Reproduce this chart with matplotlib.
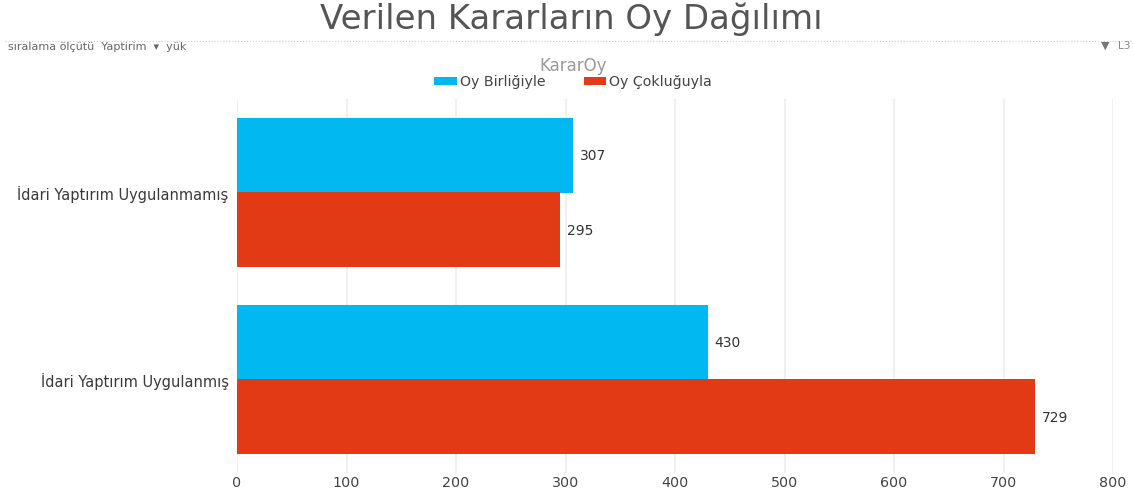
import matplotlib
matplotlib.use("Agg")
import numpy as np
import matplotlib.pyplot as plt

# Veriler
categories = ["İdari Yaptırım Uygulanmış", "İdari Yaptırım Uygulanmamış"]
oy_birligi = [430, 307]
oy_coklugu = [729, 295]
xticks = [0, 100, 200, 300, 400, 500, 600, 700, 800]

plt.rcParams['font.family'] = ['DejaVu Sans']

W, H = 1133, 493
fig = plt.figure(figsize=(W / 100, H / 100), dpi=100)
ax = fig.add_axes([237 / W, 1 - 473 / H, (1113 - 237) / W, (473 - 99) / H])

y = np.arange(len(categories))
h = 0.4
bars1 = ax.barh(y + h / 2, oy_birligi, h, color='#01b8f1', label='Oy Birliğiyle', zorder=3)
bars2 = ax.barh(y - h / 2, oy_coklugu, h, color='#e13a15', label='Oy Çokluğuyla', zorder=3)

ax.set_xlim(0, 800)
ax.set_ylim(-0.5, 1.5)
ax.set_xticks(xticks)
ax.set_yticks(y)
ax.set_yticklabels(categories, fontsize=10.5, color='#3a3a3a')
ax.tick_params(axis='y', length=0, pad=6)
ax.tick_params(axis='x', length=0, pad=2, labelsize=10.3, labelcolor='#444444')
ax.grid(axis='x', color='#f0f0f0', linewidth=1.5, zorder=0)
for s in ax.spines.values():
    s.set_visible(False)

# Rotulos das barras
for vals, offs in ((oy_birligi, h / 2), (oy_coklugu, -h / 2)):
    for i, v in enumerate(vals):
        ax.annotate(str(v), (v, i + offs), xytext=(5, -0.8), textcoords='offset points',
                    fontsize=10, color='#333333', va='center', ha='left', zorder=4)

# Titulo e barra superior
fig.text(571 / W, 1 - 29 / H, "Verilen Kararların Oy Dağılımı", fontsize=24.5,
         color='#555555', ha='center', va='baseline')
fig.add_artist(plt.Line2D([5 / W, 1], [1 - 41 / H, 1 - 41 / H], color='#cccccc',
                          linewidth=0.8, linestyle=':'))
fig.text(8 / W, 1 - 47 / H, "sıralama ölçütü  Yaptirim  ▾  yük", fontsize=8,
         color='#666666', ha='left', va='center')
fig.text(1105 / W, 1 - 46 / H, "▼", fontsize=8, color='#777777', ha='center', va='center')
fig.text(1118 / W, 1 - 46 / H, "L3", fontsize=7.5, color='#888888', ha='left', va='center')

# Legenda
leg = fig.legend(loc='center', bbox_to_anchor=(573 / W, 1 - 73 / H), ncol=2, frameon=False,
                 title='KararOy', fontsize=10.2, handlelength=1.6, handleheight=0.55,
                 handletextpad=0.2, columnspacing=2.7, labelspacing=0, borderpad=0)
leg.get_title().set_color('#999999')
leg.get_title().set_fontsize(12)
for t in leg.get_texts():
    t.set_color('#444444')

fig.savefig('out.png', dpi=100)
